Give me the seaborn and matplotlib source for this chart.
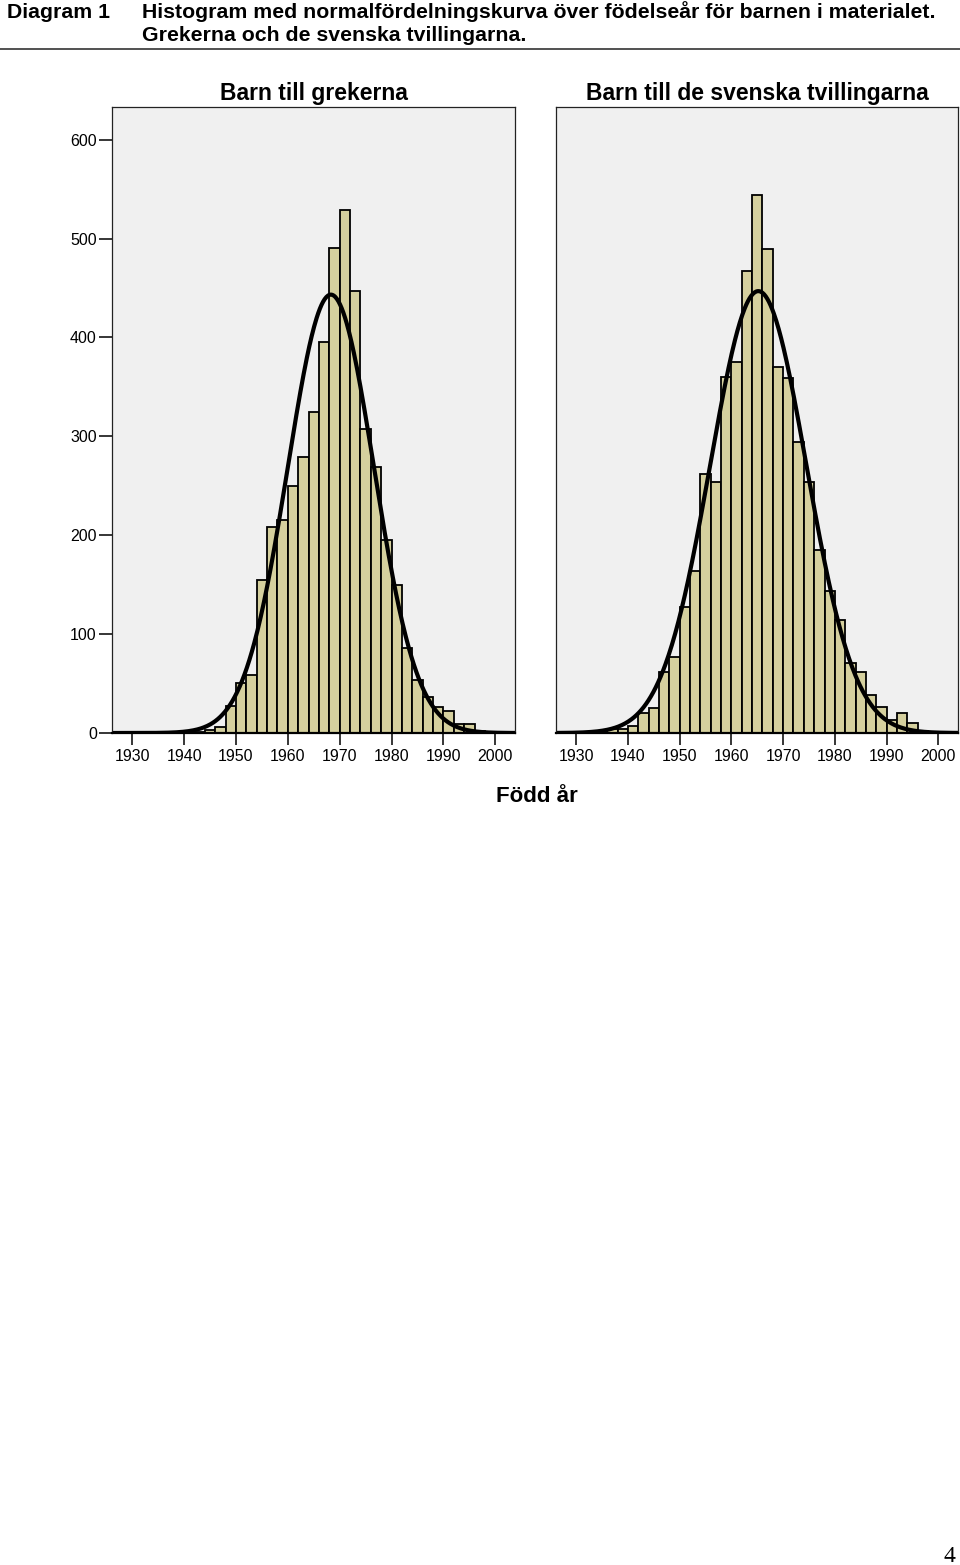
import numpy as np
import pandas as pd
import seaborn as sns
import matplotlib.pyplot as plt
from matplotlib.lines import Line2D

# ---------------- data ----------------
bin_start = list(range(1926, 2004, 2))          # 2-year bins, left edges
greek_counts = [0, 0, 0, 1, 0, 1, 1, 1, 1, 3, 6, 27, 51, 59, 155, 208, 215, 250, 279,
                325, 395, 490, 529, 447, 307, 269, 195, 150, 86, 54, 36, 26, 22, 9, 9,
                2, 1, 1, 0]
twin_counts = [0, 0, 0, 1, 2, 4, 4, 7, 20, 25, 62, 77, 127, 164, 262, 254, 360, 375, 467,
               544, 489, 370, 359, 294, 254, 185, 144, 114, 71, 62, 38, 26, 13, 20, 10,
               2, 1, 1, 0]
# fitted normal curves (mean, sd)
greek_fit = (1968.3, 8.3)
twin_fit = (1965.2, 9.3)
bin_width = 2
x_ticks = [1930, 1940, 1950, 1960, 1970, 1980, 1990, 2000]
y_ticks = [0, 100, 200, 300, 400, 500, 600]
panel_titles = ["Barn till grekerna", "Barn till de svenska tvillingarna"]

# ---------------- style ----------------
sns.set_style("ticks")
plt.rcParams['font.family'] = ['Liberation Sans', 'DejaVu Sans']
for k in ['text.color', 'axes.labelcolor', 'xtick.color', 'ytick.color']:
    plt.rcParams[k] = 'black'

W, H = 960, 1565
fig = plt.figure(figsize=(W / 100, H / 100), dpi=100)


def fx(px):
    return px / W


def fy(py):
    return 1 - py / H


ax1 = fig.add_axes([fx(112), fy(733), fx(515 - 112), (733 - 107) / H])
ax2 = fig.add_axes([fx(556), fy(733), fx(958 - 556), (733 - 107) / H])

bar_color = '#D5D09E'

for ax, counts, fit, title in [(ax1, greek_counts, greek_fit, panel_titles[0]),
                                (ax2, twin_counts, twin_fit, panel_titles[1])]:
    df = pd.DataFrame({'year': np.array(bin_start, dtype=float) + bin_width / 2,
                       'n': np.array(counts, dtype=float)})
    ax.set_facecolor('#F0F0F0')
    sns.histplot(data=df, x='year', weights='n', binwidth=bin_width,
                 binrange=(1926, 2004), stat='count',
                 color=bar_color, edgecolor='black', linewidth=1.3, alpha=1, ax=ax)
    n_total = float(np.sum(counts))
    mu, sd = fit
    xs = np.linspace(1926, 2004, 500)
    ys = n_total * bin_width * np.exp(-0.5 * ((xs - mu) / sd) ** 2) / (sd * np.sqrt(2 * np.pi))
    sns.lineplot(x=xs, y=ys, color='black', linewidth=3.0, ax=ax)
    ax.set_xlim(1926.1, 2003.8)
    ax.set_ylim(0, 633)
    ax.set_xlabel('')
    ax.set_ylabel('')
    ax.set_xticks(x_ticks)
    ax.set_xticklabels([str(t) for t in x_ticks], fontsize=11.5, color='black')
    ax.tick_params(axis='x', length=8.6, width=1.1, pad=3, color='black')
    for s in ['left', 'top', 'right']:
        ax.spines[s].set_visible(True)
        ax.spines[s].set_linewidth(0.9)
        ax.spines[s].set_color('#222222')
    ax.spines['bottom'].set_linewidth(1.6)
    ax.spines['bottom'].set_color('black')
    ax.set_title(title, fontsize=16.5, fontweight='bold', pad=5, color='black')

ax1.set_yticks(y_ticks)
ax1.set_yticklabels([str(t) for t in y_ticks], fontsize=11.5, color='black')
ax1.tick_params(axis='y', length=9.4, width=1.1, pad=1.5, color='black')
ax2.set_yticks(y_ticks)
ax2.tick_params(axis='y', left=False, labelleft=False)

# ---------------- header ----------------
hdr = dict(fontsize=15.3, fontweight='bold', va='baseline', ha='left', color='black')
fig.text(fx(7), fy(18), "Diagram 1", **hdr)
fig.text(fx(142), fy(18),
         "Histogram med normalfördelningskurva över födelseår för barnen i materialet.", **hdr)
fig.text(fx(142), fy(41), "Grekerna och de svenska tvillingarna.", **hdr)
fig.add_artist(Line2D([0, 1], [fy(48.5), fy(48.5)], transform=fig.transFigure,
                      color='#333333', linewidth=1.2))

fig.text(fx(537), fy(802), "Född år", fontsize=16, fontweight='bold', va='baseline',
         ha='center', color='black')
fig.text(fx(949), fy(1562), "4", fontsize=17, family=['Liberation Serif', 'DejaVu Serif'],
         va='baseline', ha='center', color='black')

fig.savefig('out.png', dpi=100, facecolor='white')
